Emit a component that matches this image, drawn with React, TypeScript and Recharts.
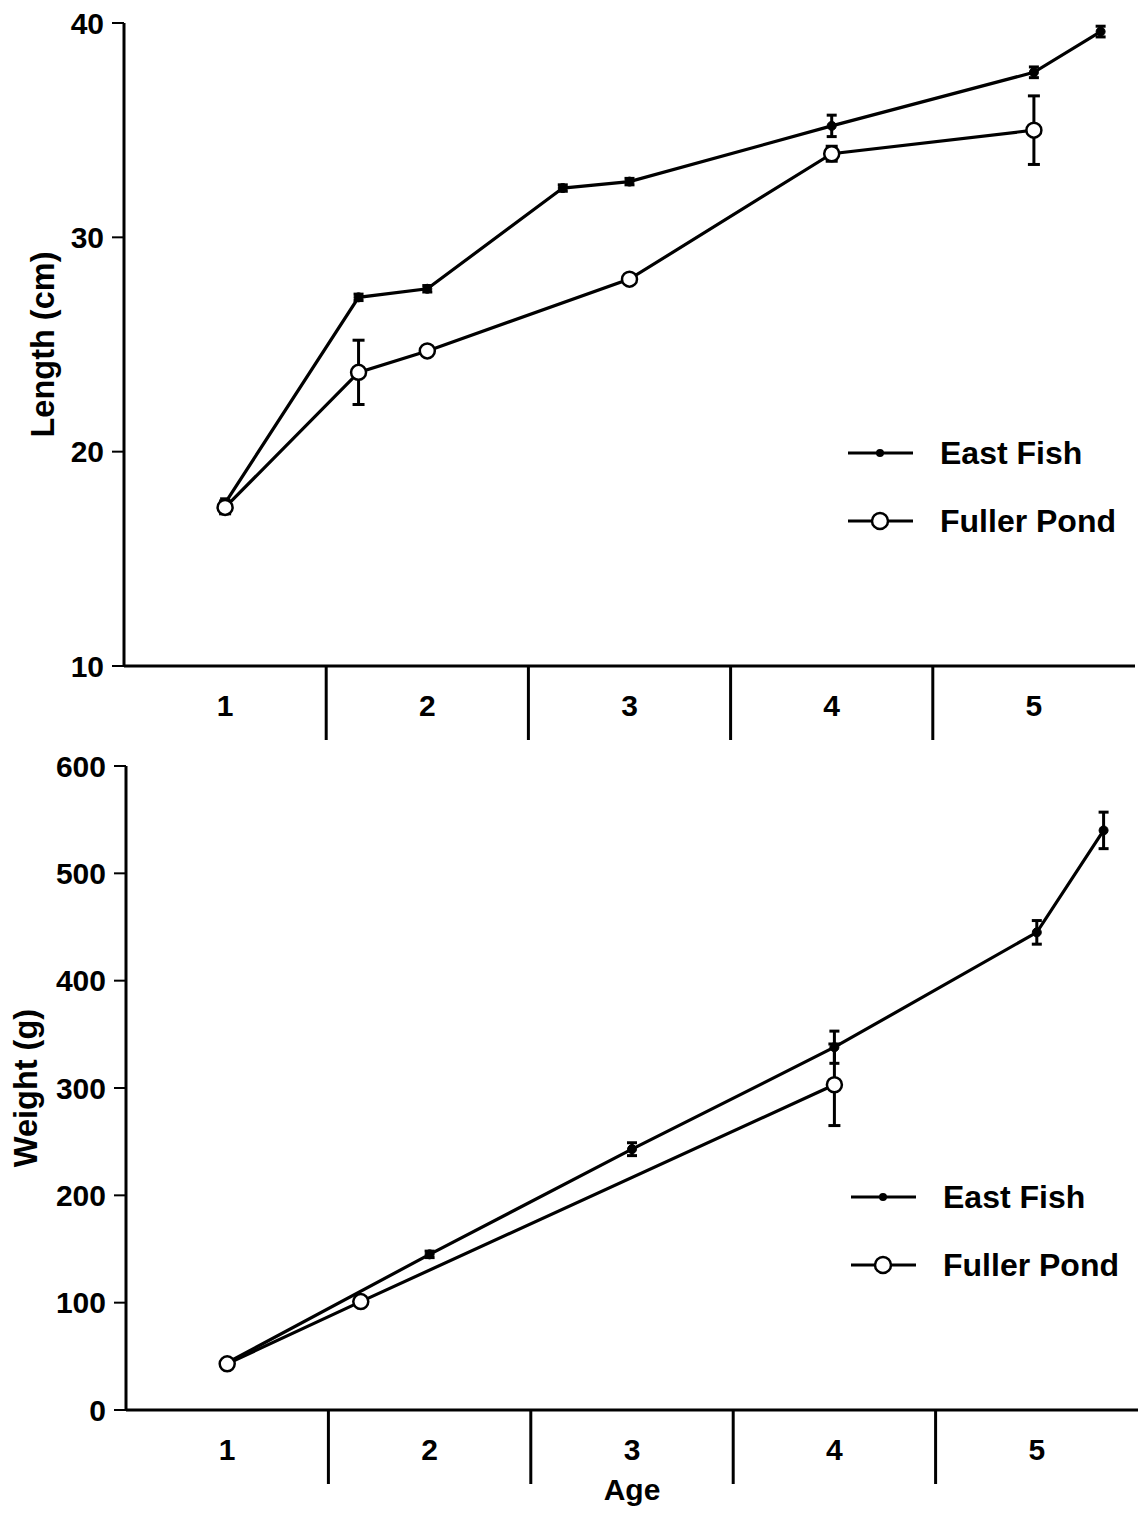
import React from "react";
import { LineChart, Line, XAxis, YAxis, ErrorBar, Legend } from "recharts";

// ---- data ----
const AGE_TICKS = [1, 1.5, 2, 2.5, 3, 3.5, 4, 4.5, 5];

const LEN_EAST_AGE = [1, 1.66, 2, 2.67, 3, 4, 5, 5.33];
const LEN_EAST = [17.6, 27.2, 27.6, 32.3, 32.6, 35.2, 37.7, 39.6];
const LEN_EAST_SE = [0.2, 0.15, 0.15, 0.15, 0.15, 0.5, 0.25, 0.25];

const LEN_FULLER_AGE = [1, 1.66, 2, 3, 4, 5];
const LEN_FULLER = [17.4, 23.7, 24.7, 28.05, 33.9, 35.0];
const LEN_FULLER_SE = [0.3, 1.5, 0, 0, 0.35, 1.6];

const WT_EAST_AGE = [1, 2, 3, 4, 5, 5.33];
const WT_EAST = [44, 145, 243, 338, 445, 540];
const WT_EAST_SE = [0, 3, 6, 15, 11, 17];

const WT_FULLER_AGE = [1, 1.66, 4];
const WT_FULLER = [43, 101, 303];
const WT_FULLER_SE = [0, 0, 38];

const LEN_TICKS = [10, 20, 30, 40];
const WT_TICKS = [0, 100, 200, 300, 400, 500, 600];

const rows = (ages: number[], vals: number[], se: number[]) =>
  ages.map((a, i) => ({ age: a, v: vals[i], se: se[i] }));

const FONT = "'Liberation Sans', Arial, Helvetica, sans-serif";
const tickStyle = { fontSize: 30, fontWeight: "bold", fill: "#000", fontFamily: FONT };

// integer ages get a label, half ages get a long divider line below the axis
const AgeTick = (props: any) => {
  const { x, y, payload } = props;
  const v = payload.value;
  if (Number.isInteger(v)) {
    return (
      <text x={x} y={y + 50} textAnchor="middle" fontSize={30} fontWeight="bold" fontFamily={FONT} fill="#000">
        {v}
      </text>
    );
  }
  return <line x1={x} y1={y} x2={x} y2={y + 74} stroke="#000" strokeWidth={3} />;
};

const legendContent = (props: any) => {
  const items = props.payload || [];
  return (
    <svg width={300} height={130} style={{ overflow: "visible" }}>
      {items.map((it: any, i: number) => {
        const y = 33 + i * 68;
        return (
          <g key={i}>
            <line x1={8} y1={y} x2={73} y2={y} stroke="#000" strokeWidth={3} />
            {i === 0 ? (
              <circle cx={40} cy={y} r={4} fill="#000" />
            ) : (
              <circle cx={40} cy={y} r={8} fill="#fff" stroke="#000" strokeWidth={2.5} />
            )}
            <text x={100} y={y + 11} fontSize={32} fontWeight="bold" fontFamily={FONT} fill="#000">
              {it.value}
            </text>
          </g>
        );
      })}
    </svg>
  );
};

const rotLabel = (text: string, x: number, dy: number) => (props: any) => {
  const vb = props.viewBox;
  const cy = vb.y + vb.height / 2 + dy;
  return (
    <text
      x={x}
      y={cy}
      transform={`rotate(-90 ${x} ${cy})`}
      textAnchor="middle"
      dominantBaseline="central"
      fontSize={32.5}
      fontWeight="bold"
      fontFamily={FONT}
      fill="#000"
    >
      {text}
    </text>
  );
};

const ageLabel = (props: any) => {
  const vb = props.viewBox;
  return (
    <text x={vb.x + vb.width / 2} y={vb.y + 90} textAnchor="middle" fontSize={30} fontWeight="bold" fontFamily={FONT} fill="#000">
      Age
    </text>
  );
};

const eastDot = { r: 4.5, fill: "#000", stroke: "#000", strokeWidth: 1 };
const fullerDot = { r: 7.5, fill: "#fff", stroke: "#000", strokeWidth: 2.5 };

export default function App() {
  return (
    <div style={{ position: "absolute", left: 0, top: 0, width: 1143, height: 1515, background: "#fff" }}>
      <div style={{ position: "absolute", left: 0, top: 0 }}>
        <LineChart width={1143} height={760} margin={{ top: 23, right: 8, bottom: 0, left: 0 }}>
          <XAxis
            type="number"
            dataKey="age"
            domain={[0.5, 5.5]}
            ticks={AGE_TICKS}
            allowDataOverflow
            height={94}
            tickSize={0}
            tickMargin={0}
            tickLine={false}
            tick={<AgeTick />}
            axisLine={{ stroke: "#000", strokeWidth: 3 }}
            interval={0}
          />
          <YAxis
            type="number"
            domain={[10, 40]}
            ticks={LEN_TICKS}
            width={124}
            tickSize={12}
            tickMargin={8}
            tick={tickStyle}
            tickLine={{ stroke: "#000", strokeWidth: 2 }}
            axisLine={{ stroke: "#000", strokeWidth: 3 }}
            label={{ content: rotLabel("Length (cm)", 43, 0) }}
          />
          <Legend
            layout="vertical"
            align="center"
            verticalAlign="middle"
            wrapperStyle={{ left: 840, top: 420, width: 300, height: 130 }}
            content={legendContent}
          />
          <Line
            name="East Fish"
            data={rows(LEN_EAST_AGE, LEN_EAST, LEN_EAST_SE)}
            dataKey="v"
            type="linear"
            stroke="#000"
            strokeWidth={3.2}
            dot={eastDot}
            activeDot={false}
            isAnimationActive={false}
          >
            <ErrorBar dataKey="se" direction="y" width={5} stroke="#000" strokeWidth={3} isAnimationActive={false} />
          </Line>
          <Line
            name="Fuller Pond"
            data={rows(LEN_FULLER_AGE, LEN_FULLER, LEN_FULLER_SE)}
            dataKey="v"
            type="linear"
            stroke="#000"
            strokeWidth={3.2}
            dot={fullerDot}
            activeDot={false}
            isAnimationActive={false}
          >
            <ErrorBar dataKey="se" direction="y" width={6} stroke="#000" strokeWidth={3} isAnimationActive={false} />
          </Line>
        </LineChart>
      </div>

      <div style={{ position: "absolute", left: 0, top: 743 }}>
        <LineChart width={1143} height={772} margin={{ top: 23, right: 5, bottom: 0, left: 0 }}>
          <XAxis
            type="number"
            dataKey="age"
            domain={[0.5, 5.5]}
            ticks={AGE_TICKS}
            allowDataOverflow
            height={105}
            tickSize={0}
            tickMargin={0}
            tickLine={false}
            tick={<AgeTick />}
            axisLine={{ stroke: "#000", strokeWidth: 3 }}
            interval={0}
            label={{ content: ageLabel }}
          />
          <YAxis
            type="number"
            domain={[0, 600]}
            ticks={WT_TICKS}
            width={126}
            tickSize={12}
            tickMargin={8}
            tick={tickStyle}
            tickLine={{ stroke: "#000", strokeWidth: 2 }}
            axisLine={{ stroke: "#000", strokeWidth: 3 }}
            label={{ content: rotLabel("Weight (g)", 26, 0) }}
          />
          <Legend
            layout="vertical"
            align="center"
            verticalAlign="middle"
            wrapperStyle={{ left: 843, top: 421, width: 300, height: 130 }}
            content={legendContent}
          />
          <Line
            name="East Fish"
            data={rows(WT_EAST_AGE, WT_EAST, WT_EAST_SE)}
            dataKey="v"
            type="linear"
            stroke="#000"
            strokeWidth={3.2}
            dot={eastDot}
            activeDot={false}
            isAnimationActive={false}
          >
            <ErrorBar dataKey="se" direction="y" width={5} stroke="#000" strokeWidth={3} isAnimationActive={false} />
          </Line>
          <Line
            name="Fuller Pond"
            data={rows(WT_FULLER_AGE, WT_FULLER, WT_FULLER_SE)}
            dataKey="v"
            type="linear"
            stroke="#000"
            strokeWidth={3.2}
            dot={fullerDot}
            activeDot={false}
            isAnimationActive={false}
          >
            <ErrorBar dataKey="se" direction="y" width={6} stroke="#000" strokeWidth={3} isAnimationActive={false} />
          </Line>
        </LineChart>
      </div>
    </div>
  );
}
